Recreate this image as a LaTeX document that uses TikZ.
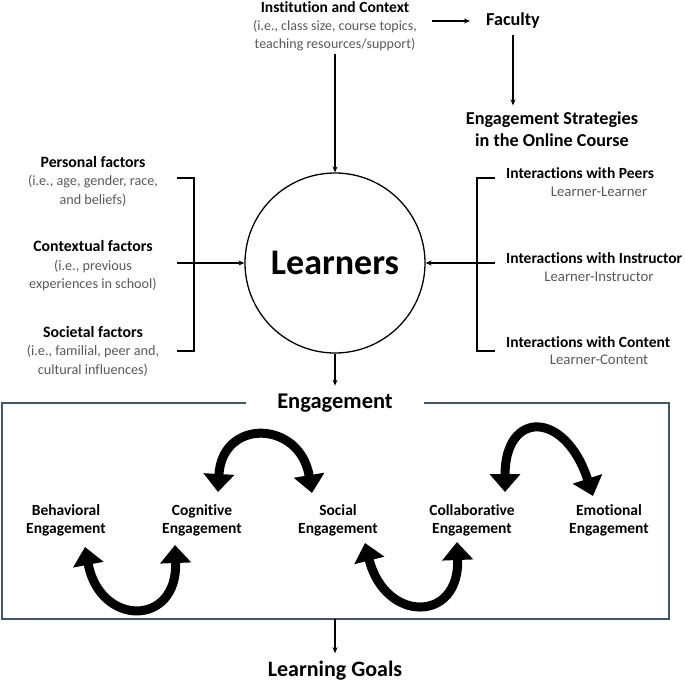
\documentclass[tikz,border=0pt]{standalone}
\usepackage{fontspec}
\setmainfont{Carlito}[Ligatures=CommonOff]
\usetikzlibrary{arrows.meta,calc}
\definecolor{subgrey}{HTML}{595959}
\definecolor{boxblue}{HTML}{44546A}
\begin{document}
\begin{tikzpicture}[x=1pt,y=-1pt,
  conn/.style={line width=1.3pt,-{Stealth[length=6pt,width=5pt]}},
  plainline/.style={line width=1.3pt},
  factor/.style={align=center,inner sep=0pt,font=\fontsize{14.2}{18.5}\selectfont,text=subgrey},
  ttl/.style={inner sep=0pt,font=\bfseries\fontsize{15.5}{18}\selectfont},
  sub/.style={inner sep=0pt,font=\fontsize{14.8}{18}\selectfont,text=subgrey},
  big/.style={inner sep=0pt,font=\bfseries\fontsize{18.2}{22}\selectfont,align=center},
  englab/.style={align=center,inner sep=0pt,font=\bfseries\fontsize{15.5}{18}\selectfont},
  bigarr/.style={line width=9pt,{Triangle[length=18pt,width=30pt]}-{Triangle[length=18pt,width=30pt]}}
]
\useasboundingbox (0,0) rectangle (685,685);

% top
\node[factor,font=\fontsize{14}{18}\selectfont] (inst) at (335,26) {{\bfseries\fontsize{15.5}{18}\selectfont\color{black}Institution and Context}\\(i.e., class size, course topics,\\teaching resources/support)};
\node[big] (fac) at (513,21) {Faculty};
\node[big] (strat) at (552,129) {Engagement Strategies\\in the Online Course};

% learners
\node[circle,draw,line width=1.3pt,minimum size=180pt,inner sep=0pt,font=\bfseries\fontsize{36}{40}\selectfont] (L) at (335,263) {Learners};

\draw[conn,shorten <=15pt,shorten >=16pt] (inst.east |- fac.west) -- (fac.west);
\draw[conn,shorten <=6pt,shorten >=6pt] (fac.south) -- (fac.south |- strat.north);
\draw[conn,shorten <=3pt] (inst.south) -- (L.north);

% left factors
\node[factor] (pers) at (93,181) {{\bfseries\fontsize{15.8}{18.5}\selectfont\color{black}Personal factors}\\(i.e., age, gender, race,\\and beliefs)};
\node[factor] (ctx) at (93,266) {{\bfseries\fontsize{15.8}{18.5}\selectfont\color{black}Contextual factors}\\(i.e., previous\\experiences in school)};
\node[factor] (soc) at (93,351) {{\bfseries\fontsize{15.8}{18.5}\selectfont\color{black}Societal factors}\\(i.e., familial, peer and,\\cultural influences)};
\coordinate (lt) at (177,178);
\coordinate (lm) at (177,263);
\coordinate (lb) at (177,351);
\draw[plainline] (lt) -- ++(17,0) -- ++(0,173) -- (lb);
\draw[conn] (lm) -- (L.west);

% right interactions
\node[ttl,anchor=west] (ip) at (506,173) {Interactions with Peers};
\node[sub] (ipl) at (599,192) {Learner-Learner};
\node[ttl,anchor=west] (ii) at (506,258) {Interactions with Instructor};
\node[sub] (iil) at (599,277) {Learner-Instructor};
\node[ttl,anchor=west] (ic) at (506,342) {Interactions with Content};
\node[sub] (icl) at (599,360) {Learner-Content};
\coordinate (rt) at (495,178);
\coordinate (rm) at (495,263);
\coordinate (rb) at (495,351);
\draw[plainline] (rt) -- ++(-18,0) -- ++(0,173) -- (rb);
\draw[conn] (rm) -- (L.east);

% engagement box
\node[big,inner xsep=31pt,font=\bfseries\fontsize{22.5}{26}\selectfont] (eng) at (335,403) {Engagement};
\draw[conn,shorten >=8pt] (L.south) -- (eng.north);
\draw[boxblue,line width=2pt] (eng.west) -- (2,403) -- (2,619) -- (669,619) -- (669,403) -- (eng.east);
\coordinate (boxbot) at (335,619);
\node[big,font=\bfseries\fontsize{22}{26}\selectfont] (goals) at (335,671) {Learning Goals};
\draw[conn,shorten >=8pt] (boxbot) -- (goals.north);

% engagement types
\node[englab] (beh) at (66,520) {Behavioral\\Engagement};
\node[englab] (cog) at (202,520) {Cognitive\\Engagement};
\node[englab] (sen) at (338,520) {Social\\Engagement};
\node[englab] (col) at (472,520) {Collaborative\\Engagement};
\node[englab] (emo) at (609,520) {Emotional\\Engagement};

\draw[bigarr] ($(cog.center)+(16,-28)$) .. controls +(4,-74) and +(-12,-73) .. ($(sen.center)+(-26,-27)$);
\draw[bigarr] ($(col.center)+(33,-28)$) .. controls +(0,-82) and +(-28,-86) .. ($(emo.center)+(-16,-24)$);
\draw[bigarr] ($(beh.center)+(19,27)$) .. controls +(15,80) and +(3,82) .. ($(cog.center)+(-27,25)$);
\draw[bigarr] ($(sen.center)+(27,23)$) .. controls +(20,80) and +(3,81) .. ($(col.center)+(-15,22)$);
\end{tikzpicture}
\end{document}
